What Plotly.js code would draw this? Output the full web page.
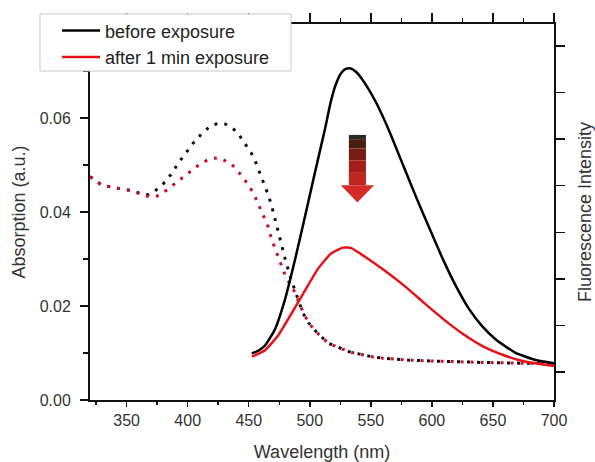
<!DOCTYPE html>
<html>
<head>
<meta charset="utf-8">
<script src="https://cdn.plot.ly/plotly-3.0.1.min.js"></script>
<style>html,body{margin:0;padding:0;background:#fff;}#chart{width:595px;height:462px;}</style>
</head>
<body>
<div id="chart"></div>
<script>
// Absorption (dotted), left axis
const absBeforeX = [320,322,329,339,347,355,363,368,372,380,387,392,399,405,413,420,426,431,440,446,452,456,459,462.5,466,469,472,475,478,480,484,489,494,499,506,515,524,533,542,551,560,570,580,600,620,640,660,680,700];
const absBeforeY = [0.0475,0.0472,0.0458,0.0452,0.0449,0.0445,0.0438,0.0437,0.0442,0.0460,0.0482,0.0503,0.0527,0.0548,0.0571,0.0585,0.0589,0.0587,0.0572,0.0550,0.0526,0.0504,0.0484,0.0460,0.0436,0.0411,0.0379,0.0345,0.0314,0.0298,0.0262,0.0223,0.0187,0.0164,0.0143,0.0121,0.0111,0.0102,0.0097,0.0092,0.0089,0.0087,0.0085,0.0083,0.0081,0.0080,0.0079,0.0078,0.0077];
const absAfterX = [320,322,329,339,347,355,363,366,372,375,383,392,401,410,418,424,427,436,443,450,455,459,463,466,469,472,475,479,483,487,494,499,506,515,524,533,542,551,560,570,580,600,620,640,660,680,700];
const absAfterY = [0.0475,0.0472,0.0458,0.0452,0.0449,0.0444,0.0437,0.0434,0.0433,0.0434,0.0447,0.0466,0.0485,0.0502,0.0513,0.0515,0.0514,0.0502,0.0481,0.0457,0.0434,0.0411,0.0388,0.0368,0.0340,0.0319,0.0295,0.0271,0.0250,0.0233,0.0190,0.0164,0.0143,0.0121,0.0111,0.0102,0.0097,0.0092,0.0089,0.0087,0.0085,0.0083,0.0081,0.0080,0.0079,0.0078,0.0077];
// Fluorescence (solid), right axis (arbitrary units)
const fluBeforeX = [452.5,458,463.3,471.5,479.6,487.8,496.0,504.1,512.3,517,521,525,529,533,538,543.5,554.4,565.3,576.1,587.0,597.9,608.7,619.6,630.5,641.3,652.3,668.6,684.9,700];
const fluBeforeY = [0.40,0.46,0.57,0.92,1.55,2.40,3.33,4.27,5.20,5.78,6.15,6.39,6.50,6.52,6.44,6.26,5.78,5.16,4.46,3.76,3.09,2.44,1.85,1.35,0.98,0.70,0.41,0.26,0.19];
const fluAfterX = [452.5,463.3,474.2,485.1,495.9,506.8,517.7,527.2,534.0,544.9,561.2,577.5,593.8,610.1,626.4,642.7,659.0,675.3,691.6,700];
const fluAfterY = [0.33,0.47,0.79,1.26,1.74,2.22,2.55,2.67,2.66,2.48,2.18,1.85,1.48,1.12,0.80,0.54,0.36,0.23,0.16,0.13];
const seriesNames = ['before exposure', 'after 1 min exposure'];

const FONT = 'Liberation Sans, Arial, sans-serif';
const data = [
  {x: absBeforeX, y: absBeforeY, type: 'scatter', mode: 'lines', xaxis: 'x', yaxis: 'y', showlegend: false,
   line: {color: '#111111', width: 3, dash: '3px,7px'}},
  {x: absAfterX, y: absAfterY, type: 'scatter', mode: 'lines', xaxis: 'x', yaxis: 'y', showlegend: false,
   line: {color: '#c8102e', width: 3, dash: '3px,7px'}},
  {x: fluBeforeX, y: fluBeforeY, type: 'scatter', mode: 'lines', xaxis: 'x2', yaxis: 'y2', name: seriesNames[0],
   line: {color: '#000000', width: 2.5, shape: 'spline', smoothing: 0.5}},
  {x: fluAfterX, y: fluAfterY, type: 'scatter', mode: 'lines', xaxis: 'x2', yaxis: 'y2', name: seriesNames[1],
   line: {color: '#e8101a', width: 2.5, shape: 'spline', smoothing: 0.5}}
];

const axCol = '#111111';
const arrowBands = [
  {y0: 0.0564, y1: 0.0555, c: '#2a2a2a'},
  {y0: 0.0555, y1: 0.0535, c: '#4a1d12'},
  {y0: 0.0535, y1: 0.0510, c: '#7a1c16'},
  {y0: 0.0510, y1: 0.0485, c: '#a31f1c'},
  {y0: 0.0485, y1: 0.0457, c: '#bf2522'}
];
const shapes = arrowBands.map(b => ({type: 'rect', xref: 'x', yref: 'y', x0: 532, x1: 546, y0: b.y1, y1: b.y0,
  fillcolor: b.c, line: {width: 0}, layer: 'above'}));
shapes.push({type: 'path', xref: 'x', yref: 'y', path: 'M 525.4,0.0457 L 552.6,0.0457 L 539,0.0420 Z',
  fillcolor: '#d42a28', line: {width: 0}, layer: 'above'});
// legend frame
shapes.push({type: 'rect', xref: 'paper', yref: 'paper', x0: -0.1078, x1: 0.4332, y0: 0.875, y1: 1.0266,
  fillcolor: '#ffffff', line: {color: '#c8c8c8', width: 1}, layer: 'above'});

const layout = {
  width: 595, height: 462,
  margin: {l: 90, r: 41, t: 24, b: 62},
  paper_bgcolor: '#ffffff', plot_bgcolor: '#ffffff',
  font: {family: FONT, size: 16, color: '#333333'},
  showlegend: true,
  legend: {x: -0.0711, y: 1.031, xanchor: 'left', yanchor: 'top', bgcolor: 'rgba(0,0,0,0)',
    borderwidth: 0, itemwidth: 38, font: {family: FONT, size: 18, color: '#222222'},
    tracegroupgap: 0},
  xaxis: {range: [320, 700], dtick: 50, tick0: 350, ticks: 'outside', ticklen: 5, tickwidth: 1.5, tickcolor: axCol,
    showline: true, linecolor: axCol, linewidth: 2, showgrid: false, zeroline: false,
    tickfont: {family: FONT, size: 16, color: '#333333'},
    minor: {dtick: 25, tick0: 325, ticks: 'outside', ticklen: 3, tickwidth: 1.5, tickcolor: axCol, showgrid: false},
    title: {text: 'Wavelength (nm)', font: {family: FONT, size: 18, color: '#333333'}, standoff: 17}},
  yaxis: {range: [0, 0.08], dtick: 0.02, tickformat: '.2f', ticks: 'outside', ticklen: 8, tickwidth: 1.5, tickcolor: axCol,
    showline: true, linecolor: axCol, linewidth: 2, showgrid: false, zeroline: false, ticklabelstandoff: 6,
    tickfont: {family: FONT, size: 16, color: '#333333'},
    minor: {dtick: 0.01, ticks: 'outside', ticklen: 5, tickwidth: 1.5, tickcolor: axCol, showgrid: false},
    title: {text: 'Absorption (a.u.)', font: {family: FONT, size: 18, color: '#333333'}, standoff: 9}},
  xaxis2: {range: [320, 700], overlaying: 'x', anchor: 'y2', side: 'top', dtick: 50, tick0: 350,
    ticks: 'outside', ticklen: 9, tickwidth: 1.5, tickcolor: axCol, showticklabels: false,
    showline: true, linecolor: axCol, linewidth: 2, showgrid: false, zeroline: false,
    minor: {dtick: 25, tick0: 325, ticks: 'outside', ticklen: 4, tickwidth: 1.5, tickcolor: axCol, showgrid: false}},
  yaxis2: {range: [-0.6, 7.47], overlaying: 'y', anchor: 'x2', side: 'right', dtick: 1, tick0: 0,
    ticks: 'outside', ticklen: 9, tickwidth: 1.5, tickcolor: axCol, showticklabels: false,
    showline: true, linecolor: axCol, linewidth: 2, showgrid: false, zeroline: false,
    title: {text: 'Fluorescence Intensity', font: {family: FONT, size: 18, color: '#333333'}, standoff: 20}},
  shapes: shapes
};

Plotly.newPlot('chart', data, layout, {displayModeBar: false, staticPlot: true});
</script>
</body>
</html>
